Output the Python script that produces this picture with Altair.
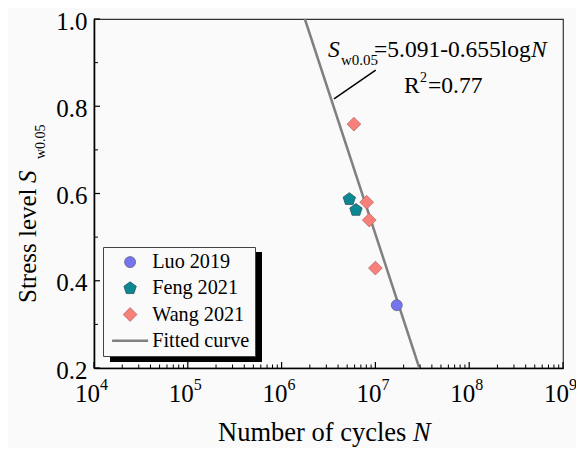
import altair as alt
import pandas as pd

# ---- data ----
series_names = ["Luo 2019", "Feng 2021", "Wang 2021", "Fitted curve"]

luo_N = [1.69e7]
luo_S = [0.344]

feng_N = [5.27e6, 6.2e6]
feng_S = [0.587, 0.562]

wang_N = [5.9e6, 8.07e6, 8.6e6, 1.0e7]
wang_S = [0.759, 0.580, 0.539, 0.429]

fit_N = [1.77e6, 2.94e7]
fit_S = [1.0, 0.2]

leader_N = [3.62e6, 1.007e7]
leader_S = [0.817, 0.883]

x_major = [1e4, 1e5, 1e6, 1e7, 1e8, 1e9]
x_exp = ["4", "5", "6", "7", "8", "9"]
x_minor = [m * 10 ** k for k in range(4, 9) for m in range(2, 10)]
y_major = [0.2, 0.4, 0.6, 0.8, 1.0]
y_minor = [0.3, 0.5, 0.7, 0.9]

W, H = 469, 349
FONT = "Liberation Serif"

pts = pd.DataFrame(
    {
        "N": luo_N + feng_N + wang_N,
        "S": luo_S + feng_S + wang_S,
        "series": ["Luo 2019"] * len(luo_N) + ["Feng 2021"] * len(feng_N) + ["Wang 2021"] * len(wang_N),
    }
)
fit_df = pd.DataFrame({"N": fit_N, "S": fit_S})
leader_df = pd.DataFrame({"N": leader_N[:1], "N2": leader_N[1:], "S": leader_S[:1], "S2": leader_S[1:]})
xmaj_df = pd.DataFrame({"N": x_major, "e": x_exp})
xmin_df = pd.DataFrame({"N": x_minor})
ymaj_df = pd.DataFrame({"S": y_major})
ymin_df = pd.DataFrame({"S": y_minor})

xscale = alt.Scale(type="log", domain=[1e4, 1e9], nice=False)
yscale = alt.Scale(domain=[0.2, 1.0], nice=False, zero=False)
xaxis = alt.Axis(title="", labels=False, ticks=False, grid=False, domainColor="black", domainWidth=1.6)
yaxis = alt.Axis(
    title="", values=y_major, format=".1f", ticks=False, grid=False, domainColor="black", domainWidth=1.6,
    labelFont=FONT, labelFontSize=25, labelColor="black", labelPadding=7, labelOffset=2,
)


def X(f="N"):
    return alt.X(f + ":Q", scale=xscale, axis=xaxis)


def Y(f="S"):
    return alt.Y(f + ":Q", scale=yscale, axis=yaxis)


pent = "M0,-1L0.951,-0.309L0.588,0.809L-0.588,0.809L-0.951,-0.309Z"
hline = "M-3,0L3,0"

shadow = alt.Chart(pd.DataFrame({"a": [0]})).mark_rect(color="black").encode(
    x=alt.value(16), x2=alt.value(168), y=alt.value(233), y2=alt.value(343)
)

fit = alt.Chart(fit_df).mark_line(color="#808080", strokeWidth=2.5).encode(x=X(), y=Y())

leader = alt.Chart(leader_df).mark_rule(color="black", strokeWidth=1.5).encode(
    x=X(), x2="N2:Q", y=Y(), y2="S2:Q"
)

points = alt.Chart(pts).mark_point(filled=True, opacity=1).encode(
    x=X(),
    y=Y(),
    shape=alt.Shape(
        "series:N",
        scale=alt.Scale(domain=series_names, range=["circle", pent, "diamond", hline]),
        legend=alt.Legend(
            title=None, orient="none", legendX=9, legendY=228, labelFont=FONT, labelFontSize=20.2,
            labelColor="black", strokeColor="#444", fillColor="#fafafa", padding=5, rowPadding=5.2,
            symbolOffset=12, labelOffset=12,
        ),
    ),
    fill=alt.Fill(
        "series:N",
        scale=alt.Scale(domain=series_names, range=["#7575ee", "#0b8894", "#f8807b", "#808080"]),
    ),
    stroke=alt.Stroke(
        "series:N",
        scale=alt.Scale(domain=series_names, range=["#555577", "#234a52", "#b06060", "#808080"]),
    ),
    size=alt.Size(
        "series:N",
        scale=alt.Scale(type="ordinal", domain=series_names, range=[121, 170, 190, 144]),
    ),
    strokeWidth=alt.StrokeWidth(
        "series:N",
        scale=alt.Scale(type="ordinal", domain=series_names, range=[0.7, 0.7, 0.7, 2.5]),
    ),
)

xmaj_ticks = alt.Chart(xmaj_df).mark_rule(color="black", strokeWidth=1.2).encode(
    x=X(), y=alt.value(H), y2=alt.value(H - 6)
)
xmin_ticks = alt.Chart(xmin_df).mark_rule(color="black", strokeWidth=1).encode(
    x=X(), y=alt.value(H), y2=alt.value(H - 3.5)
)
ymaj_ticks = alt.Chart(ymaj_df).mark_rule(color="black", strokeWidth=1.2).encode(
    y=Y(), x=alt.value(0), x2=alt.value(6)
)
ymin_ticks = alt.Chart(ymin_df).mark_rule(color="black", strokeWidth=1).encode(
    y=Y(), x=alt.value(0), x2=alt.value(4)
)

xlab = alt.Chart(xmaj_df).mark_text(font=FONT, fontSize=25, align="right", baseline="alphabetic", dx=6, color="black").encode(
    x=X(), y=alt.value(H + 34), text=alt.value("10")
)
xexp = alt.Chart(xmaj_df).mark_text(font=FONT, fontSize=16, align="left", baseline="alphabetic", dx=6, color="black").encode(
    x=X(), y=alt.value(H + 22), text="e:N"
)


def txt(s, x, y, size, style="normal", angle=0, align="left"):
    return alt.Chart(pd.DataFrame({"t": [s]})).mark_text(
        font=FONT, fontSize=size, fontStyle=style, align=align, baseline="alphabetic", angle=angle, color="black"
    ).encode(x=alt.value(x), y=alt.value(y), text="t:N")


annot = [
    txt("S", 234, 38, 23.5, "italic"),
    txt("w0.05", 247, 46, 15),
    txt("=5.091-0.655log", 280, 38, 23.5),
    txt("N", 437, 38, 23.5, "italic"),
    txt("R", 310, 74, 23.5),
    txt("2", 326, 63, 14),
    txt("=0.77", 334, 74, 23.5),
]

ytitle = [
    txt("Stress level ", -58, 284, 25, angle=270),
    txt("S", -58, 164, 25, "italic", angle=270),
    txt("w0.05", -49, 140, 14, angle=270),
]

xtitle = [
    txt("Number of cycles ", 124, 422, 26.5),
    txt("N", 319, 422, 26.5, "italic"),
]

chart = alt.layer(
    shadow, fit, leader, points, xmaj_ticks, xmin_ticks, ymaj_ticks, ymin_ticks, xlab, xexp,
    *annot, *ytitle, *xtitle,
).properties(
    width=W, height=H, background="#fafafa",
    padding={"left": 86, "top": 11, "right": 13, "bottom": 80},
    autosize=alt.AutoSizeParams(type="none"),
).configure_view(
    stroke="#333", strokeWidth=1.2
).configure_axis(
    labelFont=FONT, labelFontSize=25, labelColor="black"
).configure_legend(
    labelFont=FONT
)

chart.save("out.html", embed_options={"renderer": "svg", "actions": False})
